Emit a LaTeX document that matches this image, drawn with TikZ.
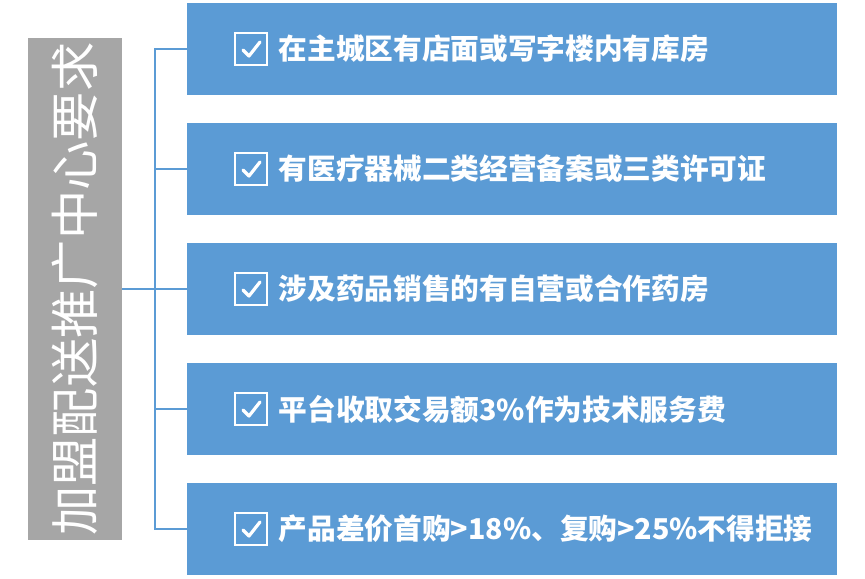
\documentclass[tikz,border=0pt]{standalone}
\usepackage{fontspec}
\newfontfamily\cjk{Noto Sans CJK SC}
\usepackage{tikz}
\usetikzlibrary{arrows.meta}

\definecolor{barblue}{RGB}{91,155,213}
\definecolor{titlegrey}{RGB}{166,166,166}

\tikzset{
  itembox/.style={fill=barblue, minimum width=487.5pt, minimum height=69pt, anchor=west, inner sep=0pt},
  itemtext/.style={text=white, font=\cjk\bfseries\fontsize{21.5}{23}\selectfont, anchor=west},
  tick/.style={draw=white, line width=1.6pt, minimum size=24pt, inner sep=0pt},
  branch/.style={draw=barblue, line width=1pt}
}

\begin{document}
\begin{tikzpicture}[x=0.75pt, y=-0.75pt]
\useasboundingbox (0,0) rectangle (865,579);

% Title bar
\node[fill=titlegrey, minimum width=70.5pt, minimum height=377pt, inner sep=0pt] (title) at (75,289) {};
\node[rotate=90, text=white, font=\cjk\fontsize{37}{39}\selectfont] (titletext) at (title.center) {加盟配送推广中心要求};

% Bracket trunk
\coordinate (hub) at (155,289);
\draw[branch] (title.east |- hub) -- (hub);
\draw[branch] (155,48) -- (155,530);

% Items
\foreach \i/\yy/\txt in {1/49/在主城区有店面或写字楼内有库房,
                          2/169/有医疗器械二类经营备案或三类许可证,
                          3/289/涉及药品销售的有自营或合作药房,
                          4/409/平台收取交易额3\%作为技术服务费,
                          5/529/产品差价首购>18\%、复购>25\%不得拒接}{
  \node[itembox] (item\i) at (187,\yy) {};
  \draw[branch] (155,\yy) -- (item\i.west);
  \node[tick] (box\i) at (251,\yy) {};
  \draw[white, line width=2.4pt, line cap=round, line join=round]
    ([shift={(-8,1)}]box\i.center) -- ([shift={(-2,7)}]box\i.center) -- ([shift={(9,-7)}]box\i.center);
  \node[itemtext] (label\i) at (274,\yy) {\txt};
}

\end{tikzpicture}
\end{document}
